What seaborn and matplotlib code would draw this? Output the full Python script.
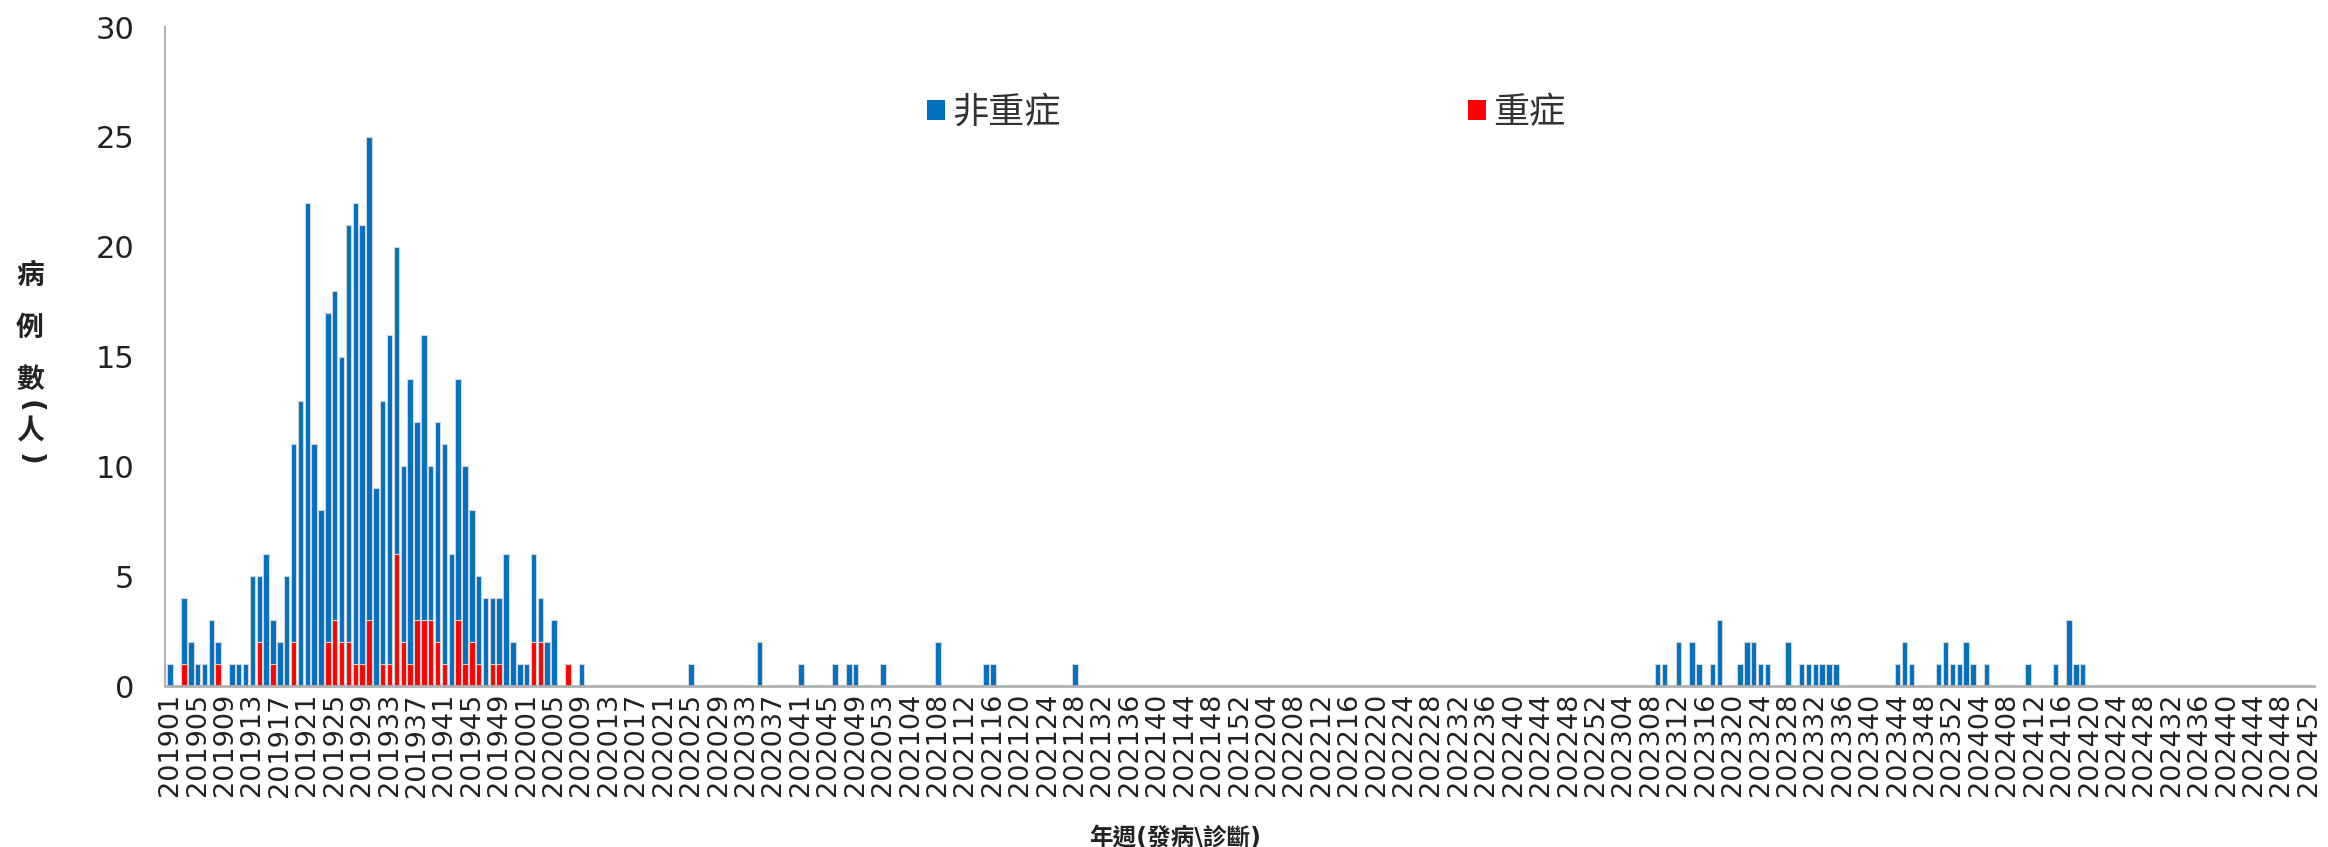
import numpy as np
import pandas as pd
import matplotlib
matplotlib.use("Agg")
import matplotlib.pyplot as plt
from matplotlib.patches import Patch
import seaborn as sns

# ---------------- data ----------------
years = [2019, 2020, 2021, 2022, 2023, 2024]
weeks_in_year = [52, 53, 52, 52, 52, 52]

# non-severe (非重症) cases per week {week: count}
mild_2019 = {1: 1, 3: 3, 4: 2, 5: 1, 6: 1, 7: 3, 8: 1, 10: 1, 11: 1, 12: 1,
             13: 5, 14: 3, 15: 6, 16: 2, 17: 2, 18: 5, 19: 9, 20: 13, 21: 22,
             22: 11, 23: 8, 24: 15, 25: 15, 26: 13, 27: 19, 28: 21, 29: 20,
             30: 22, 31: 9, 32: 12, 33: 15, 34: 14, 35: 8, 36: 13, 37: 9,
             38: 13, 39: 7, 40: 10, 41: 10, 42: 6, 43: 11, 44: 9, 45: 6,
             46: 4, 47: 4, 48: 3, 49: 3, 50: 6, 51: 2, 52: 1}
mild_2020 = {1: 1, 2: 4, 3: 2, 4: 2, 5: 3, 9: 1, 25: 1, 35: 2, 41: 1, 46: 1,
             48: 1, 49: 1, 53: 1}
mild_2021 = {8: 2, 15: 1, 16: 1, 28: 1}
mild_2022 = {}
mild_2023 = {9: 1, 10: 1, 12: 2, 14: 2, 15: 1, 17: 1, 18: 3, 21: 1, 22: 2,
             23: 2, 24: 1, 25: 1, 28: 2, 30: 1, 31: 1, 32: 1, 33: 1, 34: 1,
             35: 1, 44: 1, 45: 2, 46: 1, 50: 1, 51: 2, 52: 1}
mild_2024 = {1: 1, 2: 2, 3: 1, 5: 1, 11: 1, 15: 1, 17: 3, 18: 1, 19: 1}

# severe (重症) cases per week {week: count}
severe_2019 = {3: 1, 8: 1, 14: 2, 16: 1, 19: 2, 24: 2, 25: 3, 26: 2, 27: 2,
               28: 1, 29: 1, 30: 3, 32: 1, 33: 1, 34: 6, 35: 2, 36: 1, 37: 3,
               38: 3, 39: 3, 40: 2, 41: 1, 43: 3, 44: 1, 45: 2, 46: 1, 48: 1,
               49: 1}
severe_2020 = {2: 2, 3: 2, 7: 1}
severe_2021 = {}
severe_2022 = {}
severe_2023 = {}
severe_2024 = {}

mild_by_year = [mild_2019, mild_2020, mild_2021, mild_2022, mild_2023, mild_2024]
severe_by_year = [severe_2019, severe_2020, severe_2021, severe_2022,
                  severe_2023, severe_2024]

week_labels, mild, severe = [], [], []
for y, n, md, sv in zip(years, weeks_in_year, mild_by_year, severe_by_year):
    for w in range(1, n + 1):
        week_labels.append(f"{y}{w:02d}")
        mild.append(md.get(w, 0))
        severe.append(sv.get(w, 0))
mild = np.array(mild)
severe = np.array(severe)
total = mild + severe

df = pd.DataFrame({"week": week_labels, "total": total, "severe": severe})

# ---------------- style ----------------
sns.set_theme(style="white")
plt.rcParams["font.family"] = ["DejaVu Sans", "Noto Sans CJK TC"]

BLUE = "#0070C0"
RED = "#FF0000"
EDGE = "#d4d4d4"

fig = plt.figure(figsize=(23.28, 8.47), dpi=100)
ax = fig.add_axes([0.0709, 0.190, 0.9231, 0.778])

sns.barplot(data=df, x="week", y="total", order=week_labels, color=BLUE,
            saturation=1, width=0.8, edgecolor=EDGE, linewidth=0.8,
            errorbar=None, ax=ax)
sns.barplot(data=df, x="week", y="severe", order=week_labels, color=RED,
            saturation=1, width=0.8, edgecolor=EDGE, linewidth=0.8,
            errorbar=None, ax=ax)

ax.set_xlim(-0.75, len(week_labels) - 1 + 0.75)
ax.set_ylim(0, 30)
ax.set_yticks(range(0, 31, 5))
ax.tick_params(axis="y", length=0, pad=22, labelsize=22, colors="#222222")
tick_pos = list(range(0, len(week_labels), 4))
ax.set_xticks(tick_pos)
ax.set_xticklabels([week_labels[i] for i in tick_pos], rotation=90)
ax.tick_params(axis="x", length=0, pad=5, labelsize=19.5, colors="#222222")

for side in ["top", "right"]:
    ax.spines[side].set_visible(False)
ax.spines["left"].set_color("#b0b0b0")
ax.spines["left"].set_linewidth(1.5)
ax.spines["bottom"].set_color("#b0b0b0")
ax.spines["bottom"].set_linewidth(2.0)

ax.set_ylabel("")
ax.set_xlabel("年週(發病\\診斷)", fontsize=17, fontweight="bold", color="#222222")
ax.xaxis.set_label_coords(0.47, -0.212)
ax.xaxis.label.set_va("top")

# stacked vertical y-axis title: 病例數(人)
ylab_kw = dict(ha="center", va="center", fontsize=20, fontweight="bold",
               color="#222222")
fig.text(0.0129, 0.674, "病", **ylab_kw)
fig.text(0.0129, 0.613, "例", **ylab_kw)
fig.text(0.0129, 0.551, "數", **ylab_kw)
fig.text(0.0129, 0.520, "(", rotation=-90, **ylab_kw)
fig.text(0.0129, 0.490, "人", **ylab_kw)
fig.text(0.0129, 0.458, ")", rotation=-90, **ylab_kw)

handles = [Patch(facecolor=BLUE, edgecolor="none"),
           Patch(facecolor=RED, edgecolor="none")]
fig.legend(handles, ["非重症", "重症"], loc="center left",
           bbox_to_anchor=(0.398, 0.867), ncol=2, frameon=False,
           fontsize=26, handlelength=0.5, handleheight=0.5,
           handletextpad=0.2, columnspacing=11.3, borderpad=0,
           borderaxespad=0, labelcolor="#333333")

fig.savefig("out.png", dpi=100)
